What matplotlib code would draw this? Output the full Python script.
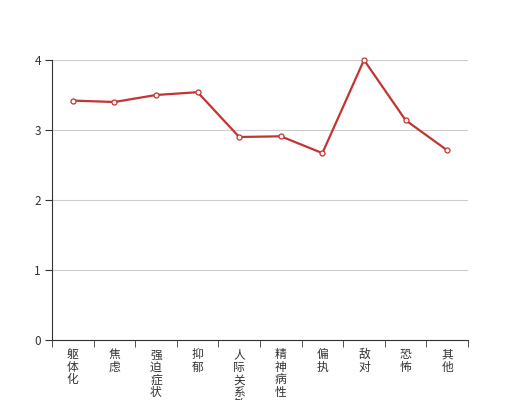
import numpy as np
import matplotlib
matplotlib.use('Agg')
import matplotlib.pyplot as plt

plt.rcParams['font.family'] = ['Noto Sans CJK SC', 'DejaVu Sans']

# data
categories = ['躯体化', '焦虑', '强迫症状', '抑郁', '人际关系敏感',
              '精神病性', '偏执', '敌对', '恐怖', '其他']
values = [3.42, 3.40, 3.50, 3.54, 2.90, 2.91, 2.67, 4.00, 3.14, 2.71]
y_ticks = [0, 1, 2, 3, 4]

fig = plt.figure(figsize=(5.2, 4.0), dpi=100)
ax = fig.add_axes([0.1, 0.15, 0.8, 0.7])

x = np.arange(len(categories))
ax.plot(x, values, color='#c23531', linewidth=1.6, marker='o', markersize=3.6,
        markerfacecolor='white', markeredgecolor='#c23531', markeredgewidth=0.9,
        zorder=3, clip_on=False)

ax.set_xlim(-0.5, len(categories) - 0.5)
ax.set_ylim(0, 4)
ax.set_yticks(y_ticks)
ax.yaxis.grid(True, color='#cccccc', linewidth=0.8)
ax.set_axisbelow(True)

# category labels, one character per line
ax.set_xticks(x)
ax.set_xticklabels(['\n'.join(c) for c in categories], va='top',
                   linespacing=0.95)
ax.set_xticks(np.arange(-0.5, len(categories), 1), minor=True)
ax.tick_params(axis='x', which='major', length=0, pad=6, labelsize=8.5,
               labelcolor='#333333')
ax.tick_params(axis='x', which='minor', length=5, color='#333333',
               direction='out')
ax.tick_params(axis='y', length=5, color='#333333', labelsize=8.5,
               labelcolor='#333333', pad=3)

for s in ['top', 'right']:
    ax.spines[s].set_visible(False)
for s in ['left', 'bottom']:
    ax.spines[s].set_color('#333333')

fig.savefig('out.png', dpi=100)
